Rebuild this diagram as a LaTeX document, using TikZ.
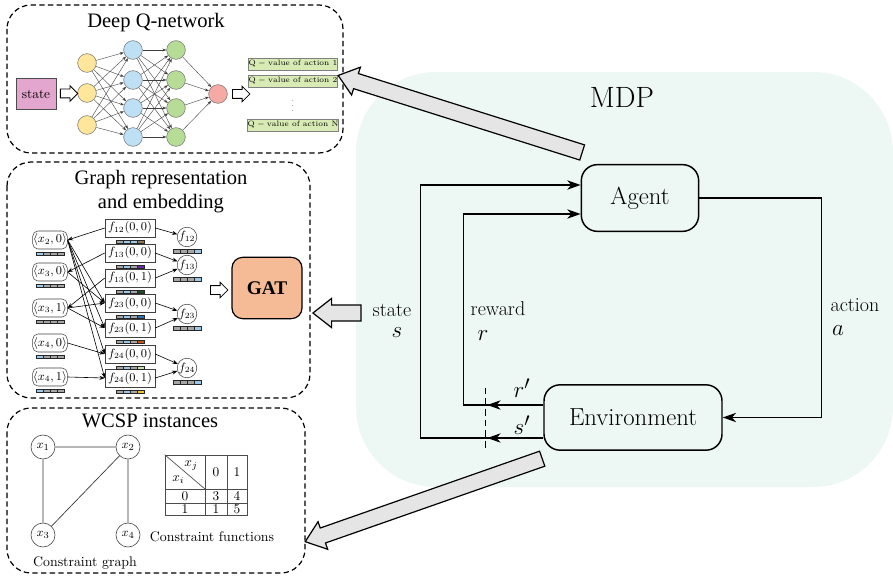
\documentclass[tikz,border=0pt]{standalone}
\usepackage{fontspec}
\newfontfamily\tms{Liberation Serif}
\usetikzlibrary{positioning,calc,matrix,shapes.arrows,arrows.meta}
\definecolor{mdpbg}{HTML}{EDF7F3}
\definecolor{inyel}{HTML}{FFE69A}
\definecolor{hidblue}{HTML}{BEE0F5}
\definecolor{hidgreen}{HTML}{B6DC96}
\definecolor{outred}{HTML}{F6AAA4}
\definecolor{statepink}{HTML}{E3A6CE}
\definecolor{qgreen}{HTML}{D9EBB5}
\definecolor{gatorange}{HTML}{F5BB96}
\definecolor{bargray}{HTML}{A6A6A6}
\definecolor{barblue}{HTML}{9DC8EA}
\definecolor{barbrown}{HTML}{8C7A55}
\definecolor{barpurple}{HTML}{6A2BB0}
\definecolor{bardkgreen}{HTML}{1F4A25}
\definecolor{bardkblue}{HTML}{2E72B8}
\definecolor{barorange}{HTML}{C8561A}
\definecolor{barltgreen}{HTML}{C6E3B0}
\definecolor{baryellow}{HTML}{F2C230}
\tikzset{
  panel/.style={draw,line width=0.9pt,dash pattern=on 4pt off 2.5pt,rounded corners=18pt},
  paneltitle/.style={font=\tms\fontsize{15.4}{18}\selectfont,align=center},
  neuron/.style={circle,draw=black!55,minimum size=14pt,inner sep=0pt},
  wire/.style={line width=0.3pt,black!75,-{Stealth[length=3pt,width=2.2pt]}},
  qbox/.style={draw=black!50,fill=qgreen,minimum width=67pt,minimum height=9pt,inner sep=0pt,font=\fontsize{5.8}{7}\selectfont},
  hollow/.style={single arrow,draw,fill=white,line width=0.6pt,inner xsep=0pt,inner ysep=3pt,single arrow head extend=2.5pt,minimum height=13pt},
  bigarrow/.style={single arrow,draw,line width=0.9pt,fill=black!10,inner xsep=0pt,inner ysep=5.5pt,single arrow head extend=5pt,single arrow tip angle=76},
  varnode/.style={draw=black!75,rounded corners=4pt,minimum width=26pt,minimum height=13.5pt,inner sep=0pt,font=\fontsize{9}{10}\selectfont},
  fnode/.style={draw=black!75,minimum width=37.5pt,minimum height=13.5pt,inner sep=0pt,font=\fontsize{9}{10}\selectfont},
  fcirc/.style={circle,draw=black!75,minimum size=13.5pt,inner sep=0pt,font=\fontsize{9}{10}\selectfont},
  gwire/.style={line width=0.45pt,-{Stealth[length=4pt,width=3pt]}},
  cvar/.style={circle,draw=black!70,line width=0.5pt,minimum size=18pt,inner sep=0pt,font=\fontsize{9.5}{11}\selectfont},
  mdpbox/.style={draw,line width=1.1pt,rounded corners=12pt,fill=mdpbg,font=\fontsize{18.5}{20}\selectfont},
  mdpline/.style={line width=1.1pt,-{Stealth[length=10pt,width=7pt,inset=3pt]}},
  mdplabel/.style={font=\fontsize{15}{17}\selectfont,inner sep=1pt},
  mdpsym/.style={font=\fontsize{19}{21}\selectfont,inner sep=1pt},
}
\newcommand\featbar[5]{%
  \foreach \col [count=\k] in {#2,#3,#4,#5}
    \draw[fill=\col,draw=black!85,line width=0.35pt] ($(#1.south)+(-21+7*\k,2.5)$) rectangle +(7,3.5);}
\newcommand\blockarrow[3]{%
  \path let \p1=($(#2)-(#1)$), \n1={atan2(\y1,\x1)}, \n2={veclen(\x1,\y1)} in
    node[bigarrow,minimum height=\n2,rotate=\n1] (#3) at ($(#1)!0.5!(#2)$) {};}

\begin{document}
\begin{tikzpicture}[x=0.75pt,y=-0.75pt]
\useasboundingbox (0,0) rectangle (893,581);
\fill[mdpbg,rounded corners=60pt] (356,72) rectangle (893,487);

% deep Q-network
\draw[panel] (7,5) rectangle (343,153);
\node[paneltitle] (dqntitle) at (156,23) {Deep Q-network};
\node[draw=black!70,fill=statepink,minimum width=30pt,minimum height=23pt,inner sep=0pt,font=\fontsize{10}{12}\selectfont] (state) at (36,94) {state};
\foreach \i/\y in {1/63,2/93,3/125}
  \node[neuron,fill=inyel] (a\i) at (87,\y) {};
\foreach \i/\y in {1/50,2/80,3/108,4/137} {
  \node[neuron,fill=hidblue] (b\i) at (133,\y) {};
  \node[neuron,fill=hidgreen] (c\i) at (176,\y) {};
}
\node[neuron,fill=outred] (out) at (218,94) {};
\foreach \i in {1,2,3}
  \foreach \j in {1,...,4}
    \draw[wire] (a\i) -- (b\j);
\foreach \i in {1,...,4} {
  \foreach \j in {1,...,4}
    \draw[wire] (b\i) -- (c\j);
  \draw[wire] (c\i) -- (out);
}
\node[hollow] (in2net) at ($(state.east)!0.5!(a2.west)$) {};
\node[qbox] (q1) at (293,64) {$\mathrm{Q-value\ of\ action\ 1}$};
\node[qbox] (q2) at (293,81) {$\mathrm{Q-value\ of\ action\ 2}$};
\node[inner sep=0pt,font=\fontsize{5}{6}\selectfont] (qdots) at (293,102) {$\vdots$};
\node[qbox] (qn) at (293,125) {$\mathrm{Q-value\ of\ action\ N}$};
\node[hollow] (net2q) at (239,94) {};

% graph representation
\draw[panel] (7,162) rectangle (310,398);
\node[paneltitle] (grtitle) at (161,192) {Graph representation\\and embedding};
\foreach \n/\t/\y in {v20/{2,0}/240,v30/{3,0}/272,v31/{3,1}/308,v40/{4,0}/343,v41/{4,1}/377}
  \node[varnode] (\n) at (50,\y) {$\langle x_\t\rangle$};
\foreach \n/\s/\t/\y in {f1200/12/0/228,f1300/13/0/253,f1301/13/1/278,f2300/23/0/303,f2301/23/1/328,f2400/24/0/354,f2401/24/1/378}
  \node[fnode] (\n) at (130,\y) {$f_{\s}(0,\t)$};
\foreach \n/\y in {12/237,13/265,23/314,24/368}
  \node[fcirc] (g\n) at (187,\y) {$f_{\n}$};
\featbar{v20}{barblue}{bargray}{bargray}{bargray}
\featbar{v30}{barblue}{bargray}{bargray}{bargray}
\featbar{v31}{bargray}{bargray}{bargray}{bargray}
\featbar{v40}{barblue}{bargray}{bargray}{bargray}
\featbar{v41}{barblue}{bargray}{bargray}{bargray}
\featbar{f1200}{bargray}{barblue}{barblue}{barbrown}
\featbar{f1300}{bargray}{barblue}{bargray}{barpurple}
\featbar{f1301}{bargray}{barblue}{bargray}{bardkgreen}
\featbar{f2300}{bargray}{barblue}{bargray}{bardkblue}
\featbar{f2301}{bargray}{barblue}{bargray}{barorange}
\featbar{f2400}{bargray}{barblue}{bargray}{barltgreen}
\featbar{f2401}{bargray}{barblue}{bargray}{baryellow}
\featbar{g12}{bargray}{bargray}{bargray}{barblue}
\featbar{g13}{bargray}{bargray}{bargray}{barblue}
\featbar{g23}{bargray}{bargray}{bargray}{barblue}
\featbar{g24}{bargray}{bargray}{bargray}{barblue}
\draw[gwire] (f1200.west) -- (v20.east);
\draw[gwire] (f1300.west) -- (v30.east);
\draw[gwire] (f1301.west) -- (v31.east);
\foreach \f in {f2300,f2301,f2400,f2401}
  \draw[gwire] (v20.east) -- (\f.west);
\draw[gwire] (v30.east) -- (f2300.west);
\draw[gwire] (v31.east) -- (f2300.west);
\draw[gwire] (v31.east) -- (f2301.west);
\draw[gwire] (v40.east) -- (f2400.west);
\draw[gwire] (v41.east) -- (f2401.west);
\foreach \f/\g in {f1200/g12,f1300/g13,f1301/g13,f2300/g23,f2301/g23,f2400/g24,f2401/g24}
  \draw[gwire] (\f.east) -- (\g);
\node[draw,line width=0.9pt,fill=gatorange,rounded corners=8pt,minimum width=52.5pt,minimum height=46pt,font=\tms\bfseries\fontsize{14.5}{16}\selectfont] (gat) at (267,288) {GAT};
\node[hollow] (g2gat) at (217,290) {};

% WCSP instances
\draw[panel] (7,408) rectangle (305,573);
\node[paneltitle] (wtitle) at (150,421) {WCSP instances};
\node[cvar] (x1) at (43,447) {$x_1$};
\node[cvar] (x2) at (128,447) {$x_2$};
\node[cvar] (x3) at (43,535) {$x_3$};
\node[cvar] (x4) at (128,535) {$x_4$};
\draw[black!80,line width=0.5pt] (x1) -- (x2) (x1) -- (x3) (x2) -- (x3) (x2) -- (x4);
\node[font=\fontsize{10.4}{12}\selectfont] (cglabel) at (85,563) {Constraint graph};
\matrix[matrix of math nodes,nodes in empty cells,inner sep=0pt,
  nodes={draw=black!70,line width=0.5pt,inner sep=0pt,anchor=center,font=\fontsize{10}{11}\selectfont},
  column sep=-0.5pt,row sep=-0.5pt,
  column 1/.style={nodes={minimum width=30pt}},
  column 2/.style={nodes={minimum width=16.5pt}},
  column 3/.style={nodes={minimum width=15pt}},
  row 1/.style={nodes={minimum height=25.5pt}},
  row 2/.style={nodes={minimum height=10.5pt}},
  row 3/.style={nodes={minimum height=9pt}}] (tab) at (206,485) {
   & 0 & 1 \\
  0 & 3 & 4 \\
  1 & 1 & 5 \\
};
\draw[black!70,line width=0.5pt] (tab-1-1.north west) -- (tab-1-1.south east);
\node[font=\fontsize{10}{11}\selectfont,anchor=north east] (xj) at ($(tab-1-1.north east)+(-3,1)$) {$x_j$};
\node[font=\fontsize{10}{11}\selectfont,anchor=south west] (xi) at ($(tab-1-1.south west)+(3,-1)$) {$x_i$};
\node[font=\fontsize{10.4}{12}\selectfont] (cflabel) at (212,537) {Constraint functions};

% MDP
\node[font=\fontsize{22}{24}\selectfont] (mdp) at (622,97) {MDP};
\node[mdpbox,minimum width=88pt,minimum height=50pt] (agent) at (640,198) {Agent};
\node[mdpbox,minimum width=133.5pt,minimum height=49pt] (env) at (633,417.5) {Environment};
\coordinate (sout) at ($(env.west)+(0,20.5)$);
\coordinate (rout) at ($(env.west)+(0,-12.5)$);
\draw[mdpline] (agent.east) -- ++(122,0) |- (env.east);
\draw[mdpline] (sout) -- ++(-123,0) |- ($(agent.west)+(0,-13)$);
\draw[mdpline] (rout) -- ++(-80,0) |- ($(agent.west)+(0,16)$);
\draw[mdpline] (sout) -- ++(-56,0);
\draw[mdpline] (rout) -- ++(-56,0);
\draw[line width=0.5pt,dash pattern=on 5pt off 3pt] ($(env.west)+(-58,-30)$) -- ++(0,62);
\node[mdpsym] (rp) at (522,388) {$r'$};
\node[mdpsym] (sp) at (522,425) {$s'$};
\node[mdplabel] (statel) at (392,310) {state};
\node[mdpsym] (ssym) at (397,333) {$s$};
\node[mdplabel] (rewardl) at (498,309) {reward};
\node[mdpsym] (rsym) at (483,336) {$r$};
\node[mdplabel] (actionl) at (855,305) {action};
\node[mdpsym] (asym) at (838,331) {$a$};

% block arrows
\coordinate (agtail) at (587,154);
\coordinate (dqtip) at (343,77);
\coordinate (sttail) at (366,313);
\coordinate (sttip) at (318,313);
\coordinate (entail) at (547,457);
\coordinate (entip) at (310,540);
\blockarrow{agtail}{dqtip}{toq}
\blockarrow{sttail}{sttip}{tograph}
\blockarrow{entail}{entip}{towcsp}
\end{tikzpicture}
\end{document}
